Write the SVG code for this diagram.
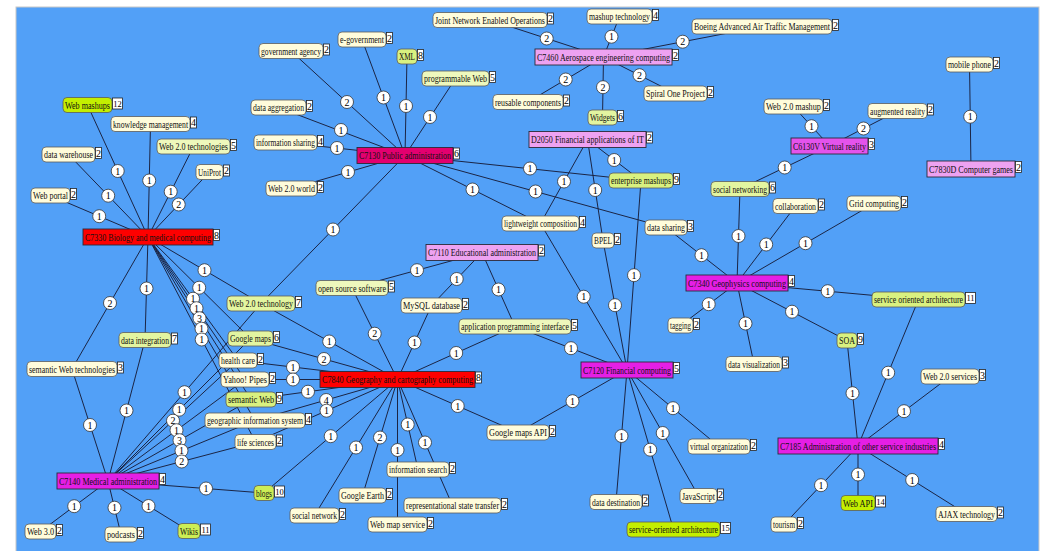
<svg xmlns="http://www.w3.org/2000/svg" width="1046" height="551" viewBox="0 0 1046 551">
<style>
.e{stroke:#1b2545;stroke-width:1;fill:none}
.q circle{fill:#fff;stroke:#333;stroke-width:0.8}
.q text{font-family:"Liberation Serif",serif;font-size:10px;text-anchor:middle;fill:#000}
.n rect.b{stroke:#5c5c5c;stroke-width:0.8}
.n rect.k{fill:#fff;stroke:#222;stroke-width:0.8}
.n text{font-family:"Liberation Serif",serif;font-size:10.5px;fill:#111}
.n text.kt{font-size:10px;text-anchor:middle;fill:#000}
.n text.k2{font-size:8.5px;text-anchor:middle;fill:#000}
.cr{fill:#fffcdb}
.g5{fill:#eef8bc}
.g7{fill:#e3f5a0}
.g9{fill:#d9f180}
.g11{fill:#cdee55}
.g15{fill:#c4ef00}
.cat rect.b{stroke:#2a2a3a;stroke-width:0.9}
.red{fill:#fe0000}
.crim{fill:#e3006f}
.mag{fill:#e51fe5}
.mag2{fill:#e453ec}
.vio{fill:#eea2f1}
</style>
<rect width="1046" height="551" fill="#fff"/>
<rect x="16" y="7" width="1023" height="545" fill="#52a0f7" stroke="#c8c8c8"/>
<g id="connectors">
<path class="e" d="M405 155.5L291 51M405 155.5L278.5 107.5M405 155.5L285.5 142.5M405 155.5L291.5 188.5M405 155.5L362 39.5M405 155.5L407 56.5M405 155.5L455.5 78.5M405 155.5L641 180.5M405 155.5L540.5 223.5M405 155.5L666 227.5M405 155.5L261 303.5"/>
<path class="e" d="M148 237L87.5 105M148 237L150.5 124M148 237L68.5 154.5M148 237L193.5 146.5M148 237L209.5 172M148 237L50.5 195.5M148 237L145 340M148 237L72 369M148 237L261 303.5M148 237L250.5 338.5M148 237L238 360.5M148 237L245 379.5M148 237L251 399.5M148 237L255 420.5M148 237L255.5 442"/>
<path class="e" d="M108 481L261 303.5M108 481L250.5 338.5M108 481L238 360.5M108 481L245 379.5M108 481L251 399.5M108 481L255 420.5M108 481L255.5 442M108 481L72 369M108 481L145 340M108 481L264 493M108 481L40.5 531.5M108 481L121 534.5M108 481L189 531"/>
<path class="e" d="M397.5 379.5L261 303.5M397.5 379.5L250.5 338.5M397.5 379.5L238 360.5M397.5 379.5L245 379.5M397.5 379.5L251 399.5M397.5 379.5L255 420.5M397.5 379.5L255.5 442M397.5 379.5L264 493M397.5 379.5L314.5 515.5M397.5 379.5L362.5 495.5M397.5 379.5L397.5 524.5M397.5 379.5L418 469.5M397.5 379.5L452.5 505.5M397.5 379.5L518 432.5M397.5 379.5L515 326.5M397.5 379.5L431.5 305.5M397.5 379.5L352 288"/>
<path class="e" d="M627 370L518 432.5M627 370L515 326.5M627 370L540.5 223.5M627 370L603 240.5M627 370L641 180.5M627 370L616 502M627 370L673.5 529.5M627 370L698.5 496M627 370L719 446.5"/>
<path class="e" d="M482 252.5L352 288M482 252.5L431.5 305.5M482 252.5L515 326.5"/>
<path class="e" d="M737 283L740 189M737 283L795.5 206M737 283L874 203.5M737 283L918.5 299.5M737 283L847 340.5M737 283L754 364M737 283L680.5 325.5M737 283L666 227.5"/>
<path class="e" d="M858 446L847 340.5M858 446L918.5 299.5M858 446L950 376.5M858 446L858 503M858 446L784 524.5M858 446L966.5 514"/>
<path class="e" d="M829.5 146L793.5 106.5M829.5 146L897.5 111M829.5 146L740 189M971 169L969.5 64.5"/>
<path class="e" d="M603.5 57L490 20M603.5 57L619.5 16.5M603.5 57L762 26.5M603.5 57L528 102M603.5 57L602.5 117.5M603.5 57L675.5 93.5"/>
<path class="e" d="M587.5 139.5L641 180.5M587.5 139.5L540.5 223.5M587.5 139.5L603 240.5"/>
<g class="q">
<g transform="translate(347,102)"><circle r="6.5"/><text y="3.5">2</text></g>
<g transform="translate(341,130)"><circle r="6.5"/><text y="3.5">1</text></g>
<g transform="translate(337,148)"><circle r="6.5"/><text y="3.5">1</text></g>
<g transform="translate(348,172)"><circle r="6.5"/><text y="3.5">1</text></g>
<g transform="translate(383.5,97.5)"><circle r="6.5"/><text y="3.5">1</text></g>
<g transform="translate(406,106)"><circle r="6.5"/><text y="3.5">1</text></g>
<g transform="translate(430,117)"><circle r="6.5"/><text y="3.5">1</text></g>
<g transform="translate(530,168.5)"><circle r="6.5"/><text y="3.5">1</text></g>
<g transform="translate(472.5,189.5)"><circle r="6.5"/><text y="3.5">1</text></g>
<g transform="translate(535.5,191.5)"><circle r="6.5"/><text y="3.5">1</text></g>
<g transform="translate(333,229.5)"><circle r="6.5"/><text y="3.5">1</text></g>
<g transform="translate(117.7,171)"><circle r="6.5"/><text y="3.5">1</text></g>
<g transform="translate(149.2,180.5)"><circle r="6.5"/><text y="3.5">1</text></g>
<g transform="translate(108.2,195.7)"><circle r="6.5"/><text y="3.5">1</text></g>
<g transform="translate(170.7,191.7)"><circle r="6.5"/><text y="3.5">1</text></g>
<g transform="translate(178.7,204.5)"><circle r="6.5"/><text y="3.5">2</text></g>
<g transform="translate(99.2,216.2)"><circle r="6.5"/><text y="3.5">1</text></g>
<g transform="translate(146.5,288.5)"><circle r="6.5"/><text y="3.5">1</text></g>
<g transform="translate(110,303)"><circle r="6.5"/><text y="3.5">2</text></g>
<g transform="translate(204.5,270.2)"><circle r="6.5"/><text y="3.5">1</text></g>
<g transform="translate(199.2,287.7)"><circle r="6.5"/><text y="3.5">1</text></g>
<g transform="translate(193,298.7)"><circle r="6.5"/><text y="3.5">1</text></g>
<g transform="translate(196.5,308.2)"><circle r="6.5"/><text y="3.5">1</text></g>
<g transform="translate(199.5,318.2)"><circle r="6.5"/><text y="3.5">3</text></g>
<g transform="translate(201.5,328.7)"><circle r="6.5"/><text y="3.5">1</text></g>
<g transform="translate(201.7,339.5)"><circle r="6.5"/><text y="3.5">1</text></g>
<g transform="translate(184.5,392.2)"><circle r="6.5"/><text y="3.5">1</text></g>
<g transform="translate(179.2,409.7)"><circle r="6.5"/><text y="3.5">1</text></g>
<g transform="translate(173,420.7)"><circle r="6.5"/><text y="3.5">2</text></g>
<g transform="translate(176.5,430.2)"><circle r="6.5"/><text y="3.5">1</text></g>
<g transform="translate(179.5,440.2)"><circle r="6.5"/><text y="3.5">3</text></g>
<g transform="translate(181.5,450.7)"><circle r="6.5"/><text y="3.5">1</text></g>
<g transform="translate(181.7,461.5)"><circle r="6.5"/><text y="3.5">2</text></g>
<g transform="translate(90,425)"><circle r="6.5"/><text y="3.5">1</text></g>
<g transform="translate(126.5,410.5)"><circle r="6.5"/><text y="3.5">1</text></g>
<g transform="translate(206,488.5)"><circle r="6.5"/><text y="3.5">1</text></g>
<g transform="translate(74.2,506.2)"><circle r="6.5"/><text y="3.5">1</text></g>
<g transform="translate(114.5,507.7)"><circle r="6.5"/><text y="3.5">1</text></g>
<g transform="translate(148.5,506)"><circle r="6.5"/><text y="3.5">1</text></g>
<g transform="translate(329.2,341.5)"><circle r="6.5"/><text y="3.5">1</text></g>
<g transform="translate(324,359)"><circle r="6.5"/><text y="3.5">2</text></g>
<g transform="translate(293,367)"><circle r="6.5"/><text y="3.5">1</text></g>
<g transform="translate(293,379.5)"><circle r="6.5"/><text y="3.5">1</text></g>
<g transform="translate(308,391.7)"><circle r="6.5"/><text y="3.5">1</text></g>
<g transform="translate(326.2,400)"><circle r="6.5"/><text y="3.5">4</text></g>
<g transform="translate(326.5,410.7)"><circle r="6.5"/><text y="3.5">1</text></g>
<g transform="translate(330.7,436.2)"><circle r="6.5"/><text y="3.5">1</text></g>
<g transform="translate(356,447.5)"><circle r="6.5"/><text y="3.5">1</text></g>
<g transform="translate(380,437.5)"><circle r="6.5"/><text y="3.5">2</text></g>
<g transform="translate(397.5,450)"><circle r="6.5"/><text y="3.5">1</text></g>
<g transform="translate(407.7,424.5)"><circle r="6.5"/><text y="3.5">1</text></g>
<g transform="translate(425,442.5)"><circle r="6.5"/><text y="3.5">1</text></g>
<g transform="translate(457.7,406)"><circle r="6.5"/><text y="3.5">1</text></g>
<g transform="translate(456.2,353)"><circle r="6.5"/><text y="3.5">1</text></g>
<g transform="translate(414.5,342.5)"><circle r="6.5"/><text y="3.5">1</text></g>
<g transform="translate(374.7,333.7)"><circle r="6.5"/><text y="3.5">2</text></g>
<g transform="translate(572.5,401.2)"><circle r="6.5"/><text y="3.5">1</text></g>
<g transform="translate(571,348.2)"><circle r="6.5"/><text y="3.5">1</text></g>
<g transform="translate(583.7,296.7)"><circle r="6.5"/><text y="3.5">1</text></g>
<g transform="translate(615,305.2)"><circle r="6.5"/><text y="3.5">1</text></g>
<g transform="translate(634,275.2)"><circle r="6.5"/><text y="3.5">1</text></g>
<g transform="translate(621.5,436)"><circle r="6.5"/><text y="3.5">1</text></g>
<g transform="translate(650.2,449.7)"><circle r="6.5"/><text y="3.5">1</text></g>
<g transform="translate(662.7,433)"><circle r="6.5"/><text y="3.5">1</text></g>
<g transform="translate(673,408.2)"><circle r="6.5"/><text y="3.5">1</text></g>
<g transform="translate(417,270.2)"><circle r="6.5"/><text y="3.5">1</text></g>
<g transform="translate(456.7,279)"><circle r="6.5"/><text y="3.5">1</text></g>
<g transform="translate(498.5,289.5)"><circle r="6.5"/><text y="3.5">1</text></g>
<g transform="translate(738.5,236)"><circle r="6.5"/><text y="3.5">1</text></g>
<g transform="translate(766.2,244.5)"><circle r="6.5"/><text y="3.5">1</text></g>
<g transform="translate(805.5,243.2)"><circle r="6.5"/><text y="3.5">1</text></g>
<g transform="translate(827.7,291.2)"><circle r="6.5"/><text y="3.5">1</text></g>
<g transform="translate(792,311.7)"><circle r="6.5"/><text y="3.5">1</text></g>
<g transform="translate(745.5,323.5)"><circle r="6.5"/><text y="3.5">1</text></g>
<g transform="translate(708.7,304.2)"><circle r="6.5"/><text y="3.5">1</text></g>
<g transform="translate(701.5,255.2)"><circle r="6.5"/><text y="3.5">1</text></g>
<g transform="translate(852.5,393.2)"><circle r="6.5"/><text y="3.5">1</text></g>
<g transform="translate(888.2,372.7)"><circle r="6.5"/><text y="3.5">1</text></g>
<g transform="translate(904,411.2)"><circle r="6.5"/><text y="3.5">1</text></g>
<g transform="translate(858,474.5)"><circle r="6.5"/><text y="3.5">1</text></g>
<g transform="translate(821,485.2)"><circle r="6.5"/><text y="3.5">1</text></g>
<g transform="translate(912.2,480)"><circle r="6.5"/><text y="3.5">1</text></g>
<g transform="translate(811.5,126.2)"><circle r="6.5"/><text y="3.5">1</text></g>
<g transform="translate(863.5,128.5)"><circle r="6.5"/><text y="3.5">2</text></g>
<g transform="translate(784.7,167.5)"><circle r="6.5"/><text y="3.5">1</text></g>
<g transform="translate(970.2,116.7)"><circle r="6.5"/><text y="3.5">1</text></g>
<g transform="translate(546.7,38.5)"><circle r="6.5"/><text y="3.5">2</text></g>
<g transform="translate(611.5,36.7)"><circle r="6.5"/><text y="3.5">1</text></g>
<g transform="translate(682.7,41.7)"><circle r="6.5"/><text y="3.5">2</text></g>
<g transform="translate(565.7,79.5)"><circle r="6.5"/><text y="3.5">2</text></g>
<g transform="translate(603,87.2)"><circle r="6.5"/><text y="3.5">2</text></g>
<g transform="translate(639.5,75.2)"><circle r="6.5"/><text y="3.5">2</text></g>
<g transform="translate(614.2,160)"><circle r="6.5"/><text y="3.5">1</text></g>
<g transform="translate(564,181.5)"><circle r="6.5"/><text y="3.5">1</text></g>
<g transform="translate(595.2,190)"><circle r="6.5"/><text y="3.5">1</text></g>
</g>
</g>
<g id="n-government-agency" class="n"><rect class="b cr" x="259" y="43.5" width="64" height="15" rx="4"/><text transform="translate(261,54.8) scale(.74,1)" textLength="81.1" lengthAdjust="spacingAndGlyphs">government agency</text><rect class="k" x="323.5" y="44" width="6" height="11"/><text class="kt" x="326.5" y="53">2</text></g>
<g id="n-e-government" class="n"><rect class="b cr" x="338" y="32" width="48" height="15" rx="4"/><text transform="translate(340,43.3) scale(.74,1)" textLength="59.5" lengthAdjust="spacingAndGlyphs">e-government</text><rect class="k" x="386.5" y="32.5" width="6" height="11"/><text class="kt" x="389.5" y="41.5">2</text></g>
<g id="n-xml" class="n"><rect class="b g9" x="397" y="49" width="20" height="15" rx="4"/><text transform="translate(399,60.3) scale(.74,1)" textLength="21.6" lengthAdjust="spacingAndGlyphs">XML</text><rect class="k" x="417.5" y="49.5" width="6" height="11"/><text class="kt" x="420.5" y="58.5">8</text></g>
<g id="n-programmable-web" class="n"><rect class="b g5" x="422" y="71" width="67" height="15" rx="4"/><text transform="translate(424,82.3) scale(.74,1)" textLength="85.1" lengthAdjust="spacingAndGlyphs">programmable Web</text><rect class="k" x="489.5" y="71.5" width="6" height="11"/><text class="kt" x="492.5" y="80.5">5</text></g>
<g id="n-data-aggregation" class="n"><rect class="b cr" x="251" y="100" width="55" height="15" rx="4"/><text transform="translate(253,111.3) scale(.74,1)" textLength="68.9" lengthAdjust="spacingAndGlyphs">data aggregation</text><rect class="k" x="306.5" y="100.5" width="6" height="11"/><text class="kt" x="309.5" y="109.5">2</text></g>
<g id="n-information-sharing" class="n"><rect class="b cr" x="254" y="135" width="63" height="15" rx="4"/><text transform="translate(256,146.3) scale(.74,1)" textLength="79.7" lengthAdjust="spacingAndGlyphs">information sharing</text><rect class="k" x="317.5" y="135.5" width="6" height="11"/><text class="kt" x="320.5" y="144.5">4</text></g>
<g id="n-web20-world" class="n"><rect class="b cr" x="266" y="181" width="51" height="15" rx="4"/><text transform="translate(268,192.3) scale(.74,1)" textLength="63.5" lengthAdjust="spacingAndGlyphs">Web 2.0 world</text><rect class="k" x="317.5" y="181.5" width="6" height="11"/><text class="kt" x="320.5" y="190.5">2</text></g>
<g id="n-web-mashups" class="n"><rect class="b g15" x="63" y="97.5" width="49" height="15" rx="4"/><text transform="translate(65,108.8) scale(.74,1)" textLength="60.8" lengthAdjust="spacingAndGlyphs">Web mashups</text><rect class="k" x="112.5" y="98" width="10" height="11"/><text class="k2" x="117.5" y="106.7">12</text></g>
<g id="n-knowledge-management" class="n"><rect class="b cr" x="111" y="116.5" width="79" height="15" rx="4"/><text transform="translate(113,127.8) scale(.74,1)" textLength="101.4" lengthAdjust="spacingAndGlyphs">knowledge management</text><rect class="k" x="190.5" y="117" width="6" height="11"/><text class="kt" x="193.5" y="126">4</text></g>
<g id="n-data-warehouse" class="n"><rect class="b cr" x="42" y="147" width="53" height="15" rx="4"/><text transform="translate(44,158.3) scale(.74,1)" textLength="66.2" lengthAdjust="spacingAndGlyphs">data warehouse</text><rect class="k" x="95.5" y="147.5" width="6" height="11"/><text class="kt" x="98.5" y="156.5">2</text></g>
<g id="n-web20-technologies" class="n"><rect class="b g5" x="157" y="139" width="73" height="15" rx="4"/><text transform="translate(159,150.3) scale(.74,1)" textLength="93.2" lengthAdjust="spacingAndGlyphs">Web 2.0 technologies</text><rect class="k" x="230.5" y="139.5" width="6" height="11"/><text class="kt" x="233.5" y="148.5">5</text></g>
<g id="n-uniprot" class="n"><rect class="b cr" x="196" y="164.5" width="27" height="15" rx="4"/><text transform="translate(198,175.8) scale(.74,1)" textLength="31.1" lengthAdjust="spacingAndGlyphs">UniProt</text><rect class="k" x="223.5" y="165" width="6" height="11"/><text class="kt" x="226.5" y="174">2</text></g>
<g id="n-web-portal" class="n"><rect class="b cr" x="31" y="188" width="39" height="15" rx="4"/><text transform="translate(33,199.3) scale(.74,1)" textLength="47.3" lengthAdjust="spacingAndGlyphs">Web portal</text><rect class="k" x="70.5" y="188.5" width="6" height="11"/><text class="kt" x="73.5" y="197.5">2</text></g>
<g id="n-data-integration" class="n"><rect class="b g7" x="119" y="332.5" width="52" height="15" rx="4"/><text transform="translate(121,343.8) scale(.74,1)" textLength="64.9" lengthAdjust="spacingAndGlyphs">data integration</text><rect class="k" x="171.5" y="333" width="6" height="11"/><text class="kt" x="174.5" y="342">7</text></g>
<g id="n-semantic-web-technologies" class="n"><rect class="b cr" x="27" y="361.5" width="90" height="15" rx="4"/><text transform="translate(29,372.8) scale(.74,1)" textLength="116.2" lengthAdjust="spacingAndGlyphs">semantic Web technologies</text><rect class="k" x="117.5" y="362" width="6" height="11"/><text class="kt" x="120.5" y="371">3</text></g>
<g id="n-web20-technology" class="n"><rect class="b g7" x="227" y="296" width="68" height="15" rx="4"/><text transform="translate(229,307.3) scale(.74,1)" textLength="86.5" lengthAdjust="spacingAndGlyphs">Web 2.0 technology</text><rect class="k" x="295.5" y="296.5" width="6" height="11"/><text class="kt" x="298.5" y="305.5">7</text></g>
<g id="n-google-maps" class="n"><rect class="b g7" x="228" y="331" width="45" height="15" rx="4"/><text transform="translate(230,342.3) scale(.74,1)" textLength="55.4" lengthAdjust="spacingAndGlyphs">Google maps</text><rect class="k" x="273.5" y="331.5" width="6" height="11"/><text class="kt" x="276.5" y="340.5">6</text></g>
<g id="n-health-care" class="n"><rect class="b cr" x="219" y="353" width="38" height="15" rx="4"/><text transform="translate(221,364.3) scale(.74,1)" textLength="45.9" lengthAdjust="spacingAndGlyphs">health care</text><rect class="k" x="257.5" y="353.5" width="6" height="11"/><text class="kt" x="260.5" y="362.5">2</text></g>
<g id="n-yahoo-pipes" class="n"><rect class="b cr" x="221" y="372" width="48" height="15" rx="4"/><text transform="translate(223,383.3) scale(.74,1)" textLength="59.5" lengthAdjust="spacingAndGlyphs">Yahoo! Pipes</text><rect class="k" x="269.5" y="372.5" width="6" height="11"/><text class="kt" x="272.5" y="381.5">2</text></g>
<g id="n-semantic-web" class="n"><rect class="b g9" x="226" y="392" width="50" height="15" rx="4"/><text transform="translate(228,403.3) scale(.74,1)" textLength="62.2" lengthAdjust="spacingAndGlyphs">semantic Web</text><rect class="k" x="276.5" y="392.5" width="6" height="11"/><text class="kt" x="279.5" y="401.5">9</text></g>
<g id="n-gis" class="n"><rect class="b cr" x="205" y="413" width="100" height="15" rx="4"/><text transform="translate(207,424.3) scale(.74,1)" textLength="129.7" lengthAdjust="spacingAndGlyphs">geographic information system</text><rect class="k" x="305.5" y="413.5" width="6" height="11"/><text class="kt" x="308.5" y="422.5">4</text></g>
<g id="n-life-sciences" class="n"><rect class="b cr" x="235" y="434.5" width="41" height="15" rx="4"/><text transform="translate(237,445.8) scale(.74,1)" textLength="50" lengthAdjust="spacingAndGlyphs">life sciences</text><rect class="k" x="276.5" y="435" width="6" height="11"/><text class="kt" x="279.5" y="444">2</text></g>
<g id="n-blogs" class="n"><rect class="b g11" x="254" y="485.5" width="20" height="15" rx="4"/><text transform="translate(256,496.8) scale(.74,1)" textLength="21.6" lengthAdjust="spacingAndGlyphs">blogs</text><rect class="k" x="274.5" y="486" width="10" height="11"/><text class="k2" x="279.5" y="494.7">10</text></g>
<g id="n-web30" class="n"><rect class="b cr" x="25" y="524" width="31" height="15" rx="4"/><text transform="translate(27,535.3) scale(.74,1)" textLength="36.5" lengthAdjust="spacingAndGlyphs">Web 3.0</text><rect class="k" x="56.5" y="524.5" width="6" height="11"/><text class="kt" x="59.5" y="533.5">2</text></g>
<g id="n-podcasts" class="n"><rect class="b cr" x="105" y="527" width="32" height="15" rx="4"/><text transform="translate(107,538.3) scale(.74,1)" textLength="37.8" lengthAdjust="spacingAndGlyphs">podcasts</text><rect class="k" x="137.5" y="527.5" width="6" height="11"/><text class="kt" x="140.5" y="536.5">2</text></g>
<g id="n-wikis" class="n"><rect class="b g11" x="178" y="523.5" width="22" height="15" rx="4"/><text transform="translate(180,534.8) scale(.74,1)" textLength="24.3" lengthAdjust="spacingAndGlyphs">Wikis</text><rect class="k" x="200.5" y="524" width="10" height="11"/><text class="k2" x="205.5" y="532.7">11</text></g>
<g id="n-social-network" class="n"><rect class="b cr" x="290" y="508" width="49" height="15" rx="4"/><text transform="translate(292,519.3) scale(.74,1)" textLength="60.8" lengthAdjust="spacingAndGlyphs">social network</text><rect class="k" x="339.5" y="508.5" width="6" height="11"/><text class="kt" x="342.5" y="517.5">2</text></g>
<g id="n-google-earth" class="n"><rect class="b cr" x="339" y="488" width="47" height="15" rx="4"/><text transform="translate(341,499.3) scale(.74,1)" textLength="58.1" lengthAdjust="spacingAndGlyphs">Google Earth</text><rect class="k" x="386.5" y="488.5" width="6" height="11"/><text class="kt" x="389.5" y="497.5">2</text></g>
<g id="n-web-map-service" class="n"><rect class="b cr" x="368" y="517" width="59" height="15" rx="4"/><text transform="translate(370,528.3) scale(.74,1)" textLength="74.3" lengthAdjust="spacingAndGlyphs">Web map service</text><rect class="k" x="427.5" y="517.5" width="6" height="11"/><text class="kt" x="430.5" y="526.5">2</text></g>
<g id="n-information-search" class="n"><rect class="b cr" x="387" y="462" width="62" height="15" rx="4"/><text transform="translate(389,473.3) scale(.74,1)" textLength="78.4" lengthAdjust="spacingAndGlyphs">information search</text><rect class="k" x="449.5" y="462.5" width="6" height="11"/><text class="kt" x="452.5" y="471.5">2</text></g>
<g id="n-rest" class="n"><rect class="b cr" x="404" y="498" width="97" height="15" rx="4"/><text transform="translate(406,509.3) scale(.74,1)" textLength="125.7" lengthAdjust="spacingAndGlyphs">representational state transfer</text><rect class="k" x="501.5" y="498.5" width="6" height="11"/><text class="kt" x="504.5" y="507.5">2</text></g>
<g id="n-google-maps-api" class="n"><rect class="b cr" x="487" y="425" width="62" height="15" rx="4"/><text transform="translate(489,436.3) scale(.74,1)" textLength="78.4" lengthAdjust="spacingAndGlyphs">Google maps API</text><rect class="k" x="549.5" y="425.5" width="6" height="11"/><text class="kt" x="552.5" y="434.5">2</text></g>
<g id="n-open-source-software" class="n"><rect class="b g5" x="316" y="280.5" width="72" height="15" rx="4"/><text transform="translate(318,291.8) scale(.74,1)" textLength="91.9" lengthAdjust="spacingAndGlyphs">open source software</text><rect class="k" x="388.5" y="281" width="6" height="11"/><text class="kt" x="391.5" y="290">5</text></g>
<g id="n-mysql-database" class="n"><rect class="b cr" x="401" y="298" width="61" height="15" rx="4"/><text transform="translate(403,309.3) scale(.74,1)" textLength="77" lengthAdjust="spacingAndGlyphs">MySQL database</text><rect class="k" x="462.5" y="298.5" width="6" height="11"/><text class="kt" x="465.5" y="307.5">2</text></g>
<g id="n-api" class="n"><rect class="b g5" x="459" y="319" width="112" height="15" rx="4"/><text transform="translate(461,330.3) scale(.74,1)" textLength="145.9" lengthAdjust="spacingAndGlyphs">application programming interface</text><rect class="k" x="571.5" y="319.5" width="6" height="11"/><text class="kt" x="574.5" y="328.5">5</text></g>
<g id="n-lightweight-composition" class="n"><rect class="b cr" x="502" y="216" width="77" height="15" rx="4"/><text transform="translate(504,227.3) scale(.74,1)" textLength="98.6" lengthAdjust="spacingAndGlyphs">lightweight composition</text><rect class="k" x="579.5" y="216.5" width="6" height="11"/><text class="kt" x="582.5" y="225.5">4</text></g>
<g id="n-bpel" class="n"><rect class="b cr" x="592" y="233" width="22" height="15" rx="4"/><text transform="translate(594,244.3) scale(.74,1)" textLength="24.3" lengthAdjust="spacingAndGlyphs">BPEL</text><rect class="k" x="614.5" y="233.5" width="6" height="11"/><text class="kt" x="617.5" y="242.5">2</text></g>
<g id="n-data-sharing" class="n"><rect class="b cr" x="645" y="220" width="42" height="15" rx="4"/><text transform="translate(647,231.3) scale(.74,1)" textLength="51.4" lengthAdjust="spacingAndGlyphs">data sharing</text><rect class="k" x="687.5" y="220.5" width="6" height="11"/><text class="kt" x="690.5" y="229.5">3</text></g>
<g id="n-enterprise-mashups" class="n"><rect class="b g9" x="609" y="173" width="64" height="15" rx="4"/><text transform="translate(611,184.3) scale(.74,1)" textLength="81.1" lengthAdjust="spacingAndGlyphs">enterprise mashups</text><rect class="k" x="673.5" y="173.5" width="6" height="11"/><text class="kt" x="676.5" y="182.5">9</text></g>
<g id="n-jneo" class="n"><rect class="b cr" x="433" y="12.5" width="114" height="15" rx="4"/><text transform="translate(435,23.8) scale(.74,1)" textLength="148.6" lengthAdjust="spacingAndGlyphs">Joint Network Enabled Operations</text><rect class="k" x="547.5" y="13" width="6" height="11"/><text class="kt" x="550.5" y="22">2</text></g>
<g id="n-mashup-technology" class="n"><rect class="b cr" x="587" y="9" width="65" height="15" rx="4"/><text transform="translate(589,20.3) scale(.74,1)" textLength="82.4" lengthAdjust="spacingAndGlyphs">mashup technology</text><rect class="k" x="652.5" y="9.5" width="6" height="11"/><text class="kt" x="655.5" y="18.5">4</text></g>
<g id="n-boeing" class="n"><rect class="b cr" x="692" y="19" width="140" height="15" rx="4"/><text transform="translate(694,30.3) scale(.74,1)" textLength="183.8" lengthAdjust="spacingAndGlyphs">Boeing Advanced Air Traffic Management</text><rect class="k" x="832.5" y="19.5" width="6" height="11"/><text class="kt" x="835.5" y="28.5">2</text></g>
<g id="n-reusable-components" class="n"><rect class="b cr" x="493" y="94.5" width="70" height="15" rx="4"/><text transform="translate(495,105.8) scale(.74,1)" textLength="89.2" lengthAdjust="spacingAndGlyphs">reusable components</text><rect class="k" x="563.5" y="95" width="6" height="11"/><text class="kt" x="566.5" y="104">2</text></g>
<g id="n-widgets" class="n"><rect class="b g7" x="588" y="110" width="29" height="15" rx="4"/><text transform="translate(590,121.3) scale(.74,1)" textLength="33.8" lengthAdjust="spacingAndGlyphs">Widgets</text><rect class="k" x="617.5" y="110.5" width="6" height="11"/><text class="kt" x="620.5" y="119.5">6</text></g>
<g id="n-spiral-one" class="n"><rect class="b cr" x="644" y="86" width="63" height="15" rx="4"/><text transform="translate(646,97.3) scale(.74,1)" textLength="79.7" lengthAdjust="spacingAndGlyphs">Spiral One Project</text><rect class="k" x="707.5" y="86.5" width="6" height="11"/><text class="kt" x="710.5" y="95.5">2</text></g>
<g id="n-web20-mashup" class="n"><rect class="b cr" x="764" y="99" width="59" height="15" rx="4"/><text transform="translate(766,110.3) scale(.74,1)" textLength="74.3" lengthAdjust="spacingAndGlyphs">Web 2.0 mashup</text><rect class="k" x="823.5" y="99.5" width="6" height="11"/><text class="kt" x="826.5" y="108.5">2</text></g>
<g id="n-augmented-reality" class="n"><rect class="b cr" x="868" y="103.5" width="59" height="15" rx="4"/><text transform="translate(870,114.8) scale(.74,1)" textLength="74.3" lengthAdjust="spacingAndGlyphs">augmented reality</text><rect class="k" x="927.5" y="104" width="6" height="11"/><text class="kt" x="930.5" y="113">2</text></g>
<g id="n-mobile-phone" class="n"><rect class="b cr" x="946" y="57" width="47" height="15" rx="4"/><text transform="translate(948,68.3) scale(.74,1)" textLength="58.1" lengthAdjust="spacingAndGlyphs">mobile phone</text><rect class="k" x="993.5" y="57.5" width="6" height="11"/><text class="kt" x="996.5" y="66.5">2</text></g>
<g id="n-social-networking" class="n"><rect class="b g7" x="711" y="181.5" width="58" height="15" rx="4"/><text transform="translate(713,192.8) scale(.74,1)" textLength="73" lengthAdjust="spacingAndGlyphs">social networking</text><rect class="k" x="769.5" y="182" width="6" height="11"/><text class="kt" x="772.5" y="191">6</text></g>
<g id="n-collaboration" class="n"><rect class="b cr" x="773" y="198.5" width="45" height="15" rx="4"/><text transform="translate(775,209.8) scale(.74,1)" textLength="55.4" lengthAdjust="spacingAndGlyphs">collaboration</text><rect class="k" x="818.5" y="199" width="6" height="11"/><text class="kt" x="821.5" y="208">2</text></g>
<g id="n-grid-computing" class="n"><rect class="b cr" x="847" y="196" width="54" height="15" rx="4"/><text transform="translate(849,207.3) scale(.74,1)" textLength="67.6" lengthAdjust="spacingAndGlyphs">Grid computing</text><rect class="k" x="901.5" y="196.5" width="6" height="11"/><text class="kt" x="904.5" y="205.5">2</text></g>
<g id="n-tagging" class="n"><rect class="b cr" x="668" y="318" width="25" height="15" rx="4"/><text transform="translate(670,329.3) scale(.74,1)" textLength="28.4" lengthAdjust="spacingAndGlyphs">tagging</text><rect class="k" x="693.5" y="318.5" width="6" height="11"/><text class="kt" x="696.5" y="327.5">2</text></g>
<g id="n-data-visualization" class="n"><rect class="b cr" x="726" y="356.5" width="56" height="15" rx="4"/><text transform="translate(728,367.8) scale(.74,1)" textLength="70.3" lengthAdjust="spacingAndGlyphs">data visualization</text><rect class="k" x="782.5" y="357" width="6" height="11"/><text class="kt" x="785.5" y="366">3</text></g>
<g id="n-soa" class="n"><rect class="b g9" x="837" y="333" width="20" height="15" rx="4"/><text transform="translate(839,344.3) scale(.74,1)" textLength="21.6" lengthAdjust="spacingAndGlyphs">SOA</text><rect class="k" x="857.5" y="333.5" width="6" height="11"/><text class="kt" x="860.5" y="342.5">9</text></g>
<g id="n-service-oriented-architecture" class="n"><rect class="b g9" x="872" y="292" width="93" height="15" rx="4"/><text transform="translate(874,303.3) scale(.74,1)" textLength="120.3" lengthAdjust="spacingAndGlyphs">service oriented architecture</text><rect class="k" x="965.5" y="292.5" width="10" height="11"/><text class="k2" x="970.5" y="301.2">11</text></g>
<g id="n-web20-services" class="n"><rect class="b cr" x="921" y="369" width="58" height="15" rx="4"/><text transform="translate(923,380.3) scale(.74,1)" textLength="73" lengthAdjust="spacingAndGlyphs">Web 2.0 services</text><rect class="k" x="979.5" y="369.5" width="6" height="11"/><text class="kt" x="982.5" y="378.5">3</text></g>
<g id="n-web-api" class="n"><rect class="b g15" x="841" y="495.5" width="34" height="15" rx="4"/><text transform="translate(843,506.8) scale(.74,1)" textLength="40.5" lengthAdjust="spacingAndGlyphs">Web API</text><rect class="k" x="875.5" y="496" width="10" height="11"/><text class="k2" x="880.5" y="504.7">14</text></g>
<g id="n-tourism" class="n"><rect class="b cr" x="771" y="517" width="26" height="15" rx="4"/><text transform="translate(773,528.3) scale(.74,1)" textLength="29.7" lengthAdjust="spacingAndGlyphs">tourism</text><rect class="k" x="797.5" y="517.5" width="6" height="11"/><text class="kt" x="800.5" y="526.5">2</text></g>
<g id="n-ajax-technology" class="n"><rect class="b cr" x="936" y="506.5" width="61" height="15" rx="4"/><text transform="translate(938,517.8) scale(.74,1)" textLength="77" lengthAdjust="spacingAndGlyphs">AJAX technology</text><rect class="k" x="997.5" y="507" width="6" height="11"/><text class="kt" x="1000.5" y="516">2</text></g>
<g id="n-data-destination" class="n"><rect class="b cr" x="590" y="494.5" width="52" height="15" rx="4"/><text transform="translate(592,505.8) scale(.74,1)" textLength="64.9" lengthAdjust="spacingAndGlyphs">data destination</text><rect class="k" x="642.5" y="495" width="6" height="11"/><text class="kt" x="645.5" y="504">2</text></g>
<g id="n-service-oriented-architecture-2" class="n"><rect class="b g15" x="627" y="522" width="93" height="15" rx="4"/><text transform="translate(629,533.3) scale(.74,1)" textLength="120.3" lengthAdjust="spacingAndGlyphs">service-oriented architecture</text><rect class="k" x="720.5" y="522.5" width="10" height="11"/><text class="k2" x="725.5" y="531.2">15</text></g>
<g id="n-javascript" class="n"><rect class="b cr" x="680" y="488.5" width="37" height="15" rx="4"/><text transform="translate(682,499.8) scale(.74,1)" textLength="44.6" lengthAdjust="spacingAndGlyphs">JavaScript</text><rect class="k" x="717.5" y="489" width="6" height="11"/><text class="kt" x="720.5" y="498">2</text></g>
<g id="n-virtual-organization" class="n"><rect class="b cr" x="688" y="439" width="62" height="15" rx="4"/><text transform="translate(690,450.3) scale(.74,1)" textLength="78.4" lengthAdjust="spacingAndGlyphs">virtual organization</text><rect class="k" x="750.5" y="439.5" width="6" height="11"/><text class="kt" x="753.5" y="448.5">2</text></g>
<g id="c-c7130" class="n cat"><rect class="b crim" x="357" y="147.5" width="96" height="16"/><text transform="translate(359,159.3) scale(.74,1)" textLength="124.3" lengthAdjust="spacingAndGlyphs">C7130 Public administration</text><rect class="k" x="453.5" y="148" width="6" height="11"/><text class="kt" x="456.5" y="157">6</text></g>
<g id="c-c7330" class="n cat"><rect class="b red" x="83" y="229" width="130" height="16"/><text transform="translate(85,240.8) scale(.74,1)" textLength="170.3" lengthAdjust="spacingAndGlyphs">C7330 Biology and medical computing</text><rect class="k" x="213.5" y="229.5" width="6" height="11"/><text class="kt" x="216.5" y="238.5">8</text></g>
<g id="c-c7840" class="n cat"><rect class="b red" x="320" y="371.5" width="155" height="16"/><text transform="translate(322,383.3) scale(.74,1)" textLength="204.1" lengthAdjust="spacingAndGlyphs">C7840 Geography and cartography computing</text><rect class="k" x="475.5" y="372" width="6" height="11"/><text class="kt" x="478.5" y="381">8</text></g>
<g id="c-c7140" class="n cat"><rect class="b mag" x="57" y="473" width="102" height="16"/><text transform="translate(59,484.8) scale(.74,1)" textLength="132.4" lengthAdjust="spacingAndGlyphs">C7140 Medical administration</text><rect class="k" x="159.5" y="473.5" width="6" height="11"/><text class="kt" x="162.5" y="482.5">4</text></g>
<g id="c-c7120" class="n cat"><rect class="b mag" x="581" y="362" width="92" height="16"/><text transform="translate(583,373.8) scale(.74,1)" textLength="118.9" lengthAdjust="spacingAndGlyphs">C7120 Financial computing</text><rect class="k" x="673.5" y="362.5" width="6" height="11"/><text class="kt" x="676.5" y="371.5">5</text></g>
<g id="c-c7110" class="n cat"><rect class="b vio" x="426" y="244.5" width="112" height="16"/><text transform="translate(428,256.3) scale(.74,1)" textLength="145.9" lengthAdjust="spacingAndGlyphs">C7110 Educational administration</text><rect class="k" x="538.5" y="245" width="6" height="11"/><text class="kt" x="541.5" y="254">2</text></g>
<g id="c-c7340" class="n cat"><rect class="b mag" x="686" y="275" width="102" height="16"/><text transform="translate(688,286.8) scale(.74,1)" textLength="132.4" lengthAdjust="spacingAndGlyphs">C7340 Geophysics computing</text><rect class="k" x="788.5" y="275.5" width="6" height="11"/><text class="kt" x="791.5" y="284.5">4</text></g>
<g id="c-c7185" class="n cat"><rect class="b mag" x="778" y="438" width="160" height="16"/><text transform="translate(780,449.8) scale(.74,1)" textLength="210.8" lengthAdjust="spacingAndGlyphs">C7185 Administration of other service industries</text><rect class="k" x="938.5" y="438.5" width="6" height="11"/><text class="kt" x="941.5" y="447.5">4</text></g>
<g id="c-c6130v" class="n cat"><rect class="b mag2" x="791" y="138" width="77" height="16"/><text transform="translate(793,149.8) scale(.74,1)" textLength="98.6" lengthAdjust="spacingAndGlyphs">C6130V Virtual reality</text><rect class="k" x="868.5" y="138.5" width="6" height="11"/><text class="kt" x="871.5" y="147.5">3</text></g>
<g id="c-c7830d" class="n cat"><rect class="b vio" x="927" y="161" width="88" height="16"/><text transform="translate(929,172.8) scale(.74,1)" textLength="113.5" lengthAdjust="spacingAndGlyphs">C7830D Computer games</text><rect class="k" x="1015.5" y="161.5" width="6" height="11"/><text class="kt" x="1018.5" y="170.5">2</text></g>
<g id="c-c7460" class="n cat"><rect class="b vio" x="535" y="49" width="137" height="16"/><text transform="translate(537,60.8) scale(.74,1)" textLength="179.7" lengthAdjust="spacingAndGlyphs">C7460 Aerospace engineering computing</text><rect class="k" x="672.5" y="49.5" width="6" height="11"/><text class="kt" x="675.5" y="58.5">2</text></g>
<g id="c-d2050" class="n cat"><rect class="b vio" x="529" y="131.5" width="117" height="16"/><text transform="translate(531,143.3) scale(.74,1)" textLength="152.7" lengthAdjust="spacingAndGlyphs">D2050 Financial applications of IT</text><rect class="k" x="646.5" y="132" width="6" height="11"/><text class="kt" x="649.5" y="141">2</text></g>
</svg>
